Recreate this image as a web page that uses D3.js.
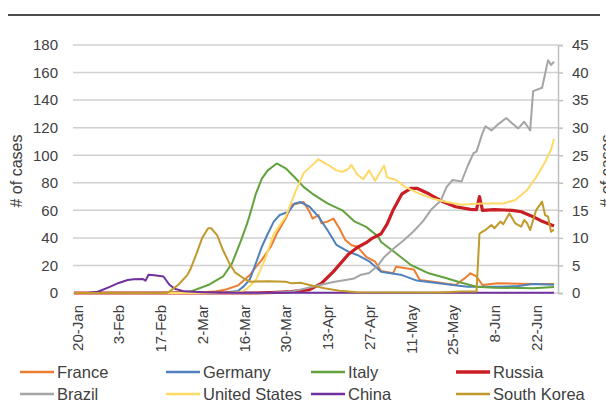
<!DOCTYPE html>
<html>
<head>
<meta charset="utf-8">
<script src="https://cdn.jsdelivr.net/npm/d3@7"></script>
<style>
  html, body { margin: 0; padding: 0; background: #fff; }
  svg { display: block; font-family: "Liberation Sans", Arial, sans-serif; }
</style>
</head>
<body>
<svg id="chart" width="606" height="411"></svg>
<script>
// ---- data (left-axis units) ----
const france = [["2020-01-19",0],["2020-02-25",0],["2020-03-01",0.3],["2020-03-06",1],["2020-03-10",2.5],["2020-03-14",5.5],["2020-03-18",13],["2020-03-20",19],["2020-03-22",24],["2020-03-25",33.6],["2020-03-27",43],["2020-03-30",54],["2020-04-01",64],["2020-04-03",65],["2020-04-05",66],["2020-04-07",59],["2020-04-08",54],["2020-04-10",56.6],["2020-04-11",50.6],["2020-04-13",51.8],["2020-04-15",54],["2020-04-17",47],["2020-04-19",38.5],["2020-04-21",34.8],["2020-04-23",33.6],["2020-04-26",26.3],["2020-04-29",22.7],["2020-05-01",16],["2020-05-05",14.3],["2020-05-06",19],["2020-05-12",17],["2020-05-14",9.5],["2020-05-19",8],["2020-05-26",5.8],["2020-05-29",10.6],["2020-05-31",14.3],["2020-06-02",12],["2020-06-04",5.8],["2020-06-09",7],["2020-06-21",6.5],["2020-06-28",6.5]];
const germany = [["2020-01-19",0],["2020-03-01",0.2],["2020-03-10",0.5],["2020-03-14",1.5],["2020-03-16",5],["2020-03-18",10],["2020-03-20",21.6],["2020-03-22",33.6],["2020-03-24",43],["2020-03-26",51.8],["2020-03-28",56.6],["2020-03-31",59],["2020-04-02",65],["2020-04-04",66],["2020-04-07",62.6],["2020-04-10",55.4],["2020-04-13",45.7],["2020-04-16",35],["2020-04-20",30],["2020-04-23",27.6],["2020-04-27",23],["2020-05-01",15.5],["2020-05-08",13],["2020-05-13",9],["2020-05-19",7.5],["2020-05-25",5.8],["2020-05-30",4.6],["2020-06-09",4.5],["2020-06-16",5],["2020-06-21",6.5],["2020-06-28",6]];
const italy = [["2020-01-19",0],["2020-02-21",0],["2020-02-27",1],["2020-03-04",5.8],["2020-03-09",12],["2020-03-12",21.5],["2020-03-15",38],["2020-03-17",50],["2020-03-18",57],["2020-03-20",72],["2020-03-22",83],["2020-03-24",89],["2020-03-27",94],["2020-03-30",90.5],["2020-04-02",84],["2020-04-05",77],["2020-04-08",72],["2020-04-13",65],["2020-04-18",60],["2020-04-22",52],["2020-04-26",48],["2020-04-30",41],["2020-05-01",37],["2020-05-06",28.8],["2020-05-11",20.3],["2020-05-17",14.3],["2020-05-23",10.7],["2020-05-28",7.5],["2020-06-02",4.6],["2020-06-08",3.9],["2020-06-21",3.4],["2020-06-28",4.4]];
const russia = [["2020-01-19",0],["2020-03-20",0],["2020-03-27",0.5],["2020-04-01",1],["2020-04-07",2.5],["2020-04-11",7],["2020-04-15",15.5],["2020-04-20",28],["2020-04-23",33],["2020-04-26",36.5],["2020-04-28",39.7],["2020-05-01",43],["2020-05-03",50],["2020-05-05",60],["2020-05-08",72],["2020-05-11",76],["2020-05-13",76],["2020-05-17",72],["2020-05-22",66],["2020-05-26",62.6],["2020-05-31",60.7],["2020-06-02",60.5],["2020-06-03",70],["2020-06-04",60],["2020-06-08",60.5],["2020-06-14",60],["2020-06-17",59],["2020-06-21",55.4],["2020-06-24",52],["2020-06-28",48.6]];
const brazil = [["2020-01-19",0],["2020-03-20",0],["2020-03-25",0.2],["2020-04-01",1],["2020-04-08",4.6],["2020-04-15",8],["2020-04-22",10.6],["2020-04-24",13],["2020-04-27",14.5],["2020-04-30",20],["2020-05-02",26],["2020-05-05",32],["2020-05-09",39],["2020-05-12",45],["2020-05-15",52],["2020-05-18",61],["2020-05-21",67],["2020-05-23",77],["2020-05-25",82],["2020-05-28",81],["2020-05-30",92],["2020-06-01",101.5],["2020-06-02",102.6],["2020-06-04",116],["2020-06-05",121],["2020-06-07",118],["2020-06-09",122],["2020-06-12",127],["2020-06-14",123],["2020-06-16",119.5],["2020-06-18",124.3],["2020-06-20",118],["2020-06-21",146.5],["2020-06-24",149],["2020-06-25",159],["2020-06-26",169],["2020-06-27",165.5],["2020-06-28",168]];
const unitedStates = [["2020-01-19",0],["2020-03-10",0],["2020-03-15",0.8],["2020-03-17",3],["2020-03-20",9.4],["2020-03-23",24],["2020-03-26",43],["2020-03-30",55.4],["2020-04-02",72],["2020-04-05",87],["2020-04-08",93],["2020-04-10",97],["2020-04-12",94.5],["2020-04-14",92],["2020-04-16",89],["2020-04-18",88],["2020-04-20",90],["2020-04-21",93],["2020-04-23",86],["2020-04-25",82.5],["2020-04-27",89],["2020-04-29",81.5],["2020-05-02",92.5],["2020-05-03",84],["2020-05-06",82],["2020-05-09",77],["2020-05-14",72],["2020-05-18",68.7],["2020-05-23",66],["2020-05-28",64],["2020-06-04",65],["2020-06-11",65],["2020-06-15",67.5],["2020-06-19",74.8],["2020-06-22",84],["2020-06-25",95],["2020-06-27",104],["2020-06-28",112]];
const china = [["2020-01-19",0],["2020-01-24",0.2],["2020-01-27",0.9],["2020-01-31",4.4],["2020-02-03",7.3],["2020-02-06",9.4],["2020-02-08",10],["2020-02-11",10.2],["2020-02-12",9],["2020-02-13",13.3],["2020-02-15",12.8],["2020-02-18",12],["2020-02-20",6],["2020-02-22",2.9],["2020-02-25",1.2],["2020-03-02",0.5],["2020-03-08",0.2],["2020-06-28",0.2]];
const southKorea = [["2020-01-19",0],["2020-02-19",0],["2020-02-20",1],["2020-02-23",6],["2020-02-26",13],["2020-02-27",17],["2020-02-29",28],["2020-03-02",40],["2020-03-04",47],["2020-03-05",47],["2020-03-07",42],["2020-03-09",31],["2020-03-11",22],["2020-03-13",15],["2020-03-16",10.5],["2020-03-18",8.2],["2020-03-24",8.5],["2020-03-30",8.2],["2020-04-01",7],["2020-04-04",7.5],["2020-04-07",5.8],["2020-04-12",3.4],["2020-04-17",1.7],["2020-04-23",0.5],["2020-05-20",0.3],["2020-05-28",1],["2020-06-02",1],["2020-06-03",43],["2020-06-04",44.5],["2020-06-05",45.7],["2020-06-07",49.4],["2020-06-08",47],["2020-06-10",51.8],["2020-06-11",50],["2020-06-13",57.8],["2020-06-14",54.2],["2020-06-15",50.6],["2020-06-17",48.2],["2020-06-18",53],["2020-06-19",50.6],["2020-06-20",45.7],["2020-06-21",53],["2020-06-22",60.2],["2020-06-24",66.3],["2020-06-25",56.6],["2020-06-26",55.4],["2020-06-27",44.5],["2020-06-28",46]];

const seriesNames = ["France","Germany","Italy","Russia","Brazil","United States","China","South Korea"];
const seriesData = [france, germany, italy, russia, brazil, unitedStates, china, southKorea];

const leftTicks = [0,20,40,60,80,100,120,140,160,180];
const rightTicks = [0,5,10,15,20,25,30,35,40,45];
const xTickDates = ["2020-01-20","2020-02-03","2020-02-17","2020-03-02","2020-03-16","2020-03-30","2020-04-13","2020-04-27","2020-05-11","2020-05-25","2020-06-08","2020-06-22"];
const axisTitle = "# of cases";

// ---- styles ----
const colors = ["#ED7D31","#4F81BD","#62A13E","#C81E24","#A5A5A5","#FFD966","#7030A0","#C09A2B"];
const widths = [2,2,2,3.2,2,2,2,2];

const parse = d3.timeParse("%Y-%m-%d");
const fmt = d3.timeFormat("%-d-%b");

const svg = d3.select("#chart");
const plot = {left: 73, right: 558, top: 45, bottom: 293};

const x = d3.scaleTime()
  .domain([parse("2020-01-19"), parse("2020-06-29")])
  .range([74, 557]);
const y = d3.scaleLinear().domain([0,180]).range([plot.bottom, plot.top]);
const y2 = d3.scaleLinear().domain([0,45]).range([plot.bottom, plot.top]);

// top rule
svg.append("line").attr("x1",8).attr("x2",600).attr("y1",15).attr("y2",15)
  .attr("stroke","#111").attr("stroke-width",1.5);

// gridlines
svg.append("g").selectAll("line").data(leftTicks).join("line")
  .attr("x1",plot.left).attr("x2",plot.right)
  .attr("y1",d=>y(d)).attr("y2",d=>y(d))
  .attr("stroke","#d0d0d0").attr("stroke-width",1.5);

// left axis labels
const gl = svg.append("g").attr("transform",`translate(${plot.left},0)`)
  .call(d3.axisLeft(y).tickValues(leftTicks).tickSize(0).tickPadding(15));
gl.select(".domain").remove();
gl.selectAll("text").attr("font-size",15).attr("fill","#404040")
  .attr("font-family","'Liberation Sans', Arial, sans-serif");

// right axis
const gr = svg.append("g").attr("transform",`translate(${plot.right},0)`)
  .call(d3.axisRight(y2).tickValues(rightTicks).tickSize(5).tickPadding(9));
gr.select(".domain").attr("stroke","#c0c0c0").attr("stroke-width",1.5);
gr.selectAll(".tick line").attr("stroke","#c0c0c0").attr("stroke-width",1.5);
gr.selectAll("text").attr("font-size",15).attr("fill","#404040")
  .attr("font-family","'Liberation Sans', Arial, sans-serif");

// x axis labels
const gx = svg.append("g").attr("transform",`translate(0,${plot.bottom})`)
  .call(d3.axisBottom(x).tickValues(xTickDates.map(parse)).tickFormat(fmt).tickSize(0));
gx.select(".domain").remove();
gx.selectAll("text")
  .attr("font-size",15).attr("fill","#404040")
  .attr("font-family","'Liberation Sans', Arial, sans-serif")
  .attr("text-anchor","end")
  .attr("transform","translate(0,12) rotate(-90)")
  .attr("x",0).attr("y",0).attr("dy","0.35em");

// axis titles
svg.append("text").attr("transform","translate(22,171) rotate(-90)")
  .attr("text-anchor","middle").attr("font-size",16).attr("fill","#404040").text(axisTitle);
svg.append("text").attr("transform","translate(612,171) rotate(-90)")
  .attr("text-anchor","middle").attr("font-size",16).attr("fill","#404040").text(axisTitle);

// lines
const line = d3.line().x(d=>x(parse(d[0]))).y(d=>y(d[1]));
svg.append("g").selectAll("path").data(seriesData).join("path")
  .attr("d", d=>line(d))
  .attr("fill","none")
  .attr("stroke",(d,i)=>colors[i])
  .attr("stroke-width",(d,i)=>widths[i])
  .attr("stroke-linejoin","round");

// legend
const legX = [20,166,311,456];
const legY = [372,394];
const leg = svg.append("g").selectAll("g").data(seriesNames).join("g")
  .attr("transform",(d,i)=>`translate(${legX[i%4]},${legY[Math.floor(i/4)]})`);
leg.append("line").attr("x1",0).attr("x2",34).attr("y1",0).attr("y2",0)
  .attr("stroke",(d,i)=>colors[i]).attr("stroke-width",(d,i)=>widths[i]+0.5);
leg.append("text").attr("x",37).attr("y",0).attr("dy","0.36em")
  .attr("font-size",16.5).attr("fill","#404040").text(d=>d);
</script>
</body>
</html>
